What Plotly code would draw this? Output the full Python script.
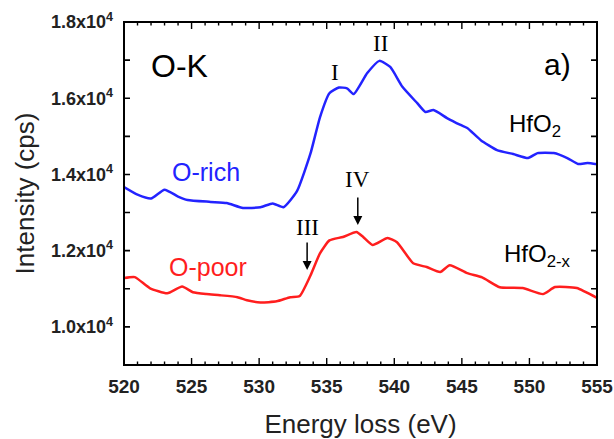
import plotly.graph_objects as go

energy_rich = [520.0, 521.0, 522.0, 523.0, 524.0, 524.7, 526.4, 527.6, 528.8, 530.1, 531.0, 531.8,
               532.8, 533.8, 534.5, 535.2, 535.9, 536.5, 537.0, 538.0, 538.9, 539.7, 540.6, 541.7,
               542.3, 542.9, 543.9, 544.9, 545.4, 546.4, 547.6, 548.8, 549.9, 550.6, 551.8, 552.8,
               553.6, 554.3, 555.0]
intensity_rich = [13670, 13470, 13370, 13600, 13420, 13330, 13280, 13250, 13120, 13140, 13240, 13140,
                  13560, 14550, 15500, 16130, 16280, 16260, 16110, 16660, 16980, 16820, 16300, 15870,
                  15640, 15690, 15480, 15300, 15220, 14900, 14640, 14535, 14430, 14560, 14560, 14430,
                  14275, 14300, 14270]

energy_poor = [520.0, 520.8, 521.9, 523.2, 524.3, 525.1, 526.1, 527.1, 528.4, 529.1, 530.1, 531.3,
               532.3, 533.0, 533.8, 534.5, 535.2, 536.2, 537.2, 537.7, 538.4, 539.5, 540.2, 541.4,
               542.4, 543.4, 544.1, 545.4, 546.5, 547.8, 549.5, 551.0, 551.9, 553.5, 555.0]
intensity_poor = [11280, 11306, 11020, 10880, 11060, 10910, 10860, 10830, 10780, 10700, 10640, 10670,
                  10780, 10810, 11350, 11930, 12270, 12360, 12490, 12360, 12150, 12330, 12220, 11670,
                  11570, 11440, 11620, 11410, 11300, 11040, 11020, 10860, 11045, 11020, 10760]

y_tickvals = [10000, 12000, 14000, 16000, 18000]
y_ticktext = ["1.0x10<sup>4</sup>", "1.2x10<sup>4</sup>", "1.4x10<sup>4</sup>",
              "1.6x10<sup>4</sup>", "1.8x10<sup>4</sup>"]
y_all_ticks = [9000, 10000, 11000, 12000, 13000, 14000, 15000, 16000, 17000, 18000]
x_tickvals = [520, 525, 530, 535, 540, 545, 550, 555]
x_minor_ticks = list(range(520, 556))

X_RANGE = [520, 555]
Y_RANGE = [9000, 18000]

SANS = "Liberation Sans, Arial, sans-serif"
SERIF = "Liberation Serif, Times New Roman, serif"
BLUE = "rgb(35,35,255)"
RED = "rgb(255,30,30)"

W, H = 614, 439
ML, MR, MT, MB = 124, 17, 22, 74
PW, PH = W - ML - MR, H - MT - MB
x_per_px = (X_RANGE[1] - X_RANGE[0]) / PW
y_per_px = (Y_RANGE[1] - Y_RANGE[0]) / PH

fig = go.Figure()
fig.add_trace(go.Scatter(x=energy_rich, y=intensity_rich, mode="lines",
                         line=dict(color=BLUE, width=2.5, shape="spline", smoothing=0.5),
                         showlegend=False, hoverinfo="skip"))
fig.add_trace(go.Scatter(x=energy_poor, y=intensity_poor, mode="lines",
                         line=dict(color=RED, width=2.5, shape="spline", smoothing=0.5),
                         showlegend=False, hoverinfo="skip"))

ann = []
def txt(x, y, t, size, font=SANS, color="black", xanchor="center"):
    ann.append(dict(x=x, y=y, xref="x", yref="y", text=t, showarrow=False,
                    font=dict(family=font, size=size, color=color), xanchor=xanchor, yanchor="middle"))

def seg(x0, y0, x1, y1, width):
    # straight line from tail (x0, y0) to head (x1, y1)
    ann.append(dict(x=x1, y=y1, ax=x0, ay=y0, xref="x", yref="y", axref="x", ayref="y",
                    text="", showarrow=True, arrowhead=0, arrowwidth=width,
                    arrowcolor="black", font=dict(size=1), borderpad=0,
                    standoff=0, startstandoff=0))

# tick marks inside on all four sides
for v in x_minor_ticks:
    L = (7 if v in x_tickvals else 3.5) * y_per_px
    seg(v, Y_RANGE[0], v, Y_RANGE[0] + L, 1.4)
    seg(v, Y_RANGE[1], v, Y_RANGE[1] - L, 1.4)
for v in y_all_ticks[1:-1]:
    L = 6 * x_per_px
    seg(X_RANGE[0], v, X_RANGE[0] + L, v, 1.6)
    seg(X_RANGE[1], v, X_RANGE[1] - L, v, 1.6)

txt(524.1, 16845, "O-K", 32)
txt(552.1, 16897, "a)", 30)
txt(535.6, 16688, "I", 23, SERIF)
txt(538.95, 17449, "II", 23, SERIF)
txt(533.55, 12619, "III", 23, SERIF)
txt(537.3, 13879, "IV", 23, SERIF)
txt(548.35, 15296, "HfO<sub>2</sub>", 24, xanchor="left")
txt(548.0, 11884, "HfO<sub>2-x</sub>", 24, xanchor="left")
txt(523.4, 14062, "O-rich", 25, color=BLUE, xanchor="left")
txt(523.2, 11569, "O-poor", 25, color=RED, xanchor="left")

for (x, y) in [(533.55, 11490), (537.3, 12672)]:
    ann.append(dict(x=x, y=y, xref="x", yref="y", ax=0, ay=-28, text="", showarrow=True,
                    arrowhead=2, arrowsize=1.2, arrowwidth=1.5, arrowcolor="black",
                    font=dict(size=1), borderpad=0))

# plot frame drawn as the border of an empty annotation box covering the plot area
ann.append(dict(x=0.5, y=0.5, xref="paper", yref="paper", xanchor="center", yanchor="middle",
                text=" ", showarrow=False, width=PW - 2, height=PH - 2, borderpad=0,
                bordercolor="black", borderwidth=2, font=dict(size=1, color="white")))

fig.update_layout(
    width=W, height=H,
    margin=dict(l=ML, r=MR, t=MT, b=MB),
    paper_bgcolor="white", plot_bgcolor="white",
    annotations=ann,
    xaxis=dict(range=X_RANGE, tickvals=x_tickvals, ticks="", showline=False,
               showgrid=False, zeroline=False, automargin=False, ticklabelstandoff=8,
               tickfont=dict(family=SANS, size=19, color="#222", weight="bold"),
               title=dict(text="Energy loss (eV)", font=dict(family=SANS, size=26, color="#222"),
                          standoff=18)),
    yaxis=dict(range=Y_RANGE, tickvals=y_tickvals, ticktext=y_ticktext, ticks="",
               showline=False, showgrid=False, zeroline=False, automargin=False,
               ticklabelstandoff=10,
               tickfont=dict(family=SANS, size=18, color="#222", weight="bold"),
               title=dict(text="Intensity (cps)", font=dict(family=SANS, size=26, color="#222"),
                          standoff=8)),
)

fig.write_html("out.html")
